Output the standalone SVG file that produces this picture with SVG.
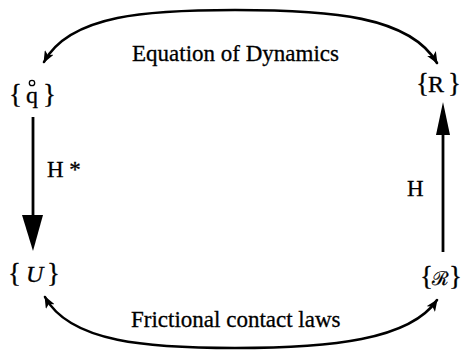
<svg xmlns="http://www.w3.org/2000/svg" width="462" height="356" viewBox="0 0 462 356">
<style>
.t{font-family:"Liberation Serif","Times New Roman",serif;fill:#000;stroke:#000;stroke-width:0.3}
.lbl{font-size:23px}
.nd{font-size:27px}
.c{fill:none;stroke:#000;stroke-width:2.6;stroke-linecap:round}
.v{fill:none;stroke:#000;stroke-width:2.8}
</style>
<defs>
<marker id="ah" viewBox="0 0 12 10" refX="11" refY="5" markerWidth="12" markerHeight="10" markerUnits="userSpaceOnUse" orient="auto-start-reverse">
<path d="M0,0 L12,5 L0,10 L3,5 Z" fill="#000"/>
</marker>
</defs>
<rect width="462" height="356" fill="#fff"/>
<g id="connectors">
<path class="c" d="M44,62 C70,14 150,10 235,10 C330,10 410,16 437,63" marker-start="url(#ah)" marker-end="url(#ah)"/>
<path class="c" d="M45,297 C70,343 150,348 235,348 C330,348 410,340 437,300" marker-start="url(#ah)" marker-end="url(#ah)"/>
<line class="v" x1="33" y1="117" x2="33" y2="220"/>
<path d="M22,215 L43,215 L33,251 Z" fill="#000"/>
<line class="v" x1="443" y1="252" x2="443" y2="130"/>
<path d="M436,135 L450,135 L443,102 Z" fill="#000"/>
<text class="t lbl" x="132" y="61">Equation of Dynamics</text>
<text class="t lbl" x="131" y="327">Frictional contact laws</text>
<text class="t lbl" x="47" y="177">H *</text>
<text class="t lbl" x="407" y="196">H</text>
</g>
<g id="node-qdot">
<text class="t nd" y="103"><tspan x="9">{</tspan><tspan x="26" font-size="24">q</tspan><tspan x="43">}</tspan></text>
<circle cx="32" cy="83" r="2.7" fill="none" stroke="#000" stroke-width="1.3"/>
</g>
<g id="node-R">
<text class="t nd" y="92"><tspan x="416">{</tspan><tspan x="428" font-size="24">R</tspan><tspan x="448">}</tspan></text>
</g>
<g id="node-U">
<text class="t nd" y="282"><tspan x="8">{</tspan><tspan x="26" font-size="24" font-style="italic">U</tspan><tspan x="47">}</tspan></text>
</g>
<g id="node-Rscript">
<text class="t nd" y="285"><tspan x="420">{</tspan><tspan x="432" font-family="'DejaVu Serif',serif" font-size="19">ℛ</tspan><tspan x="449">}</tspan></text>
</g>
</svg>
